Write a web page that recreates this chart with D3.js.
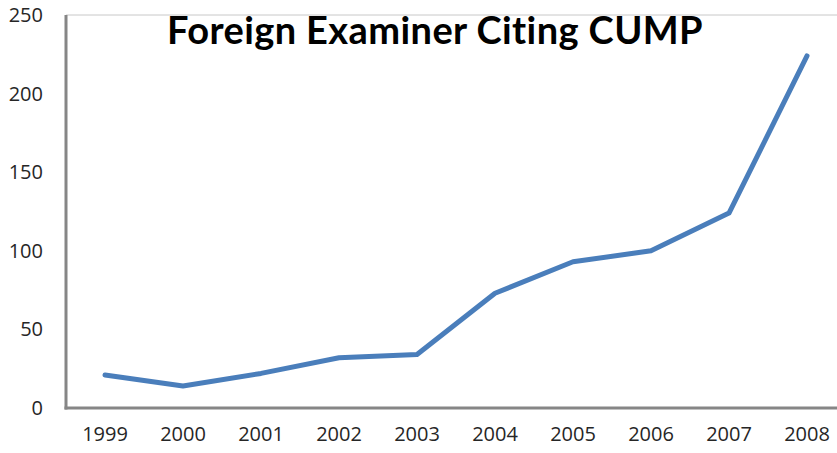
<!DOCTYPE html>
<html>
  <head>
    <style>
    body {
      margin: 0;
      background: #fff;
    }
    </style>
  </head>
  <body>
    <script src="https://cdn.jsdelivr.net/npm/d3@7"></script>
    <script>

var years = ["1999", "2000", "2001", "2002", "2003", "2004", "2005", "2006", "2007", "2008"];
var citations = [21, 14, 22, 32, 34, 73, 93, 100, 124, 224];
var yTicks = [0, 50, 100, 150, 200, 250];
var chartTitle = "Foreign Examiner Citing CUMP";

var width = 837, height = 453;
var plotLeft = 66, plotRight = 846, plotTop = 15, plotBottom = 408;

var svg = d3.select("body").append("svg")
    .attr("width", width)
    .attr("height", height);

var x = d3.scaleBand().domain(years).range([plotLeft, plotRight]);
var y = d3.scaleLinear().domain([0, 250]).range([plotBottom, plotTop]);

// light top border
svg.append("line")
    .attr("x1", plotLeft).attr("x2", plotRight)
    .attr("y1", y(250)).attr("y2", y(250))
    .style("stroke", "#c8c8c8")
    .style("stroke-width", 1);

// y axis labels
var yAxis = svg.append("g")
    .attr("transform", "translate(" + plotLeft + ",0)")
    .call(d3.axisLeft(y).tickValues(yTicks).tickSize(0).tickPadding(23));
yAxis.select(".domain").remove();
yAxis.selectAll("text")
    .style("font-family", "'Open Sans', sans-serif")
    .style("font-size", "20px")
    .style("fill", "#262626");

// x axis labels
var xAxis = svg.append("g")
    .attr("transform", "translate(0," + plotBottom + ")")
    .call(d3.axisBottom(x).tickSize(0).tickPadding(19));
xAxis.select(".domain").remove();
xAxis.selectAll("text")
    .style("font-family", "'Open Sans', sans-serif")
    .style("font-size", "20px")
    .style("fill", "#262626");

// axis lines
svg.append("line")
    .attr("x1", plotLeft).attr("x2", plotLeft)
    .attr("y1", y(250)).attr("y2", plotBottom + 1.5)
    .style("stroke", "#868686")
    .style("stroke-width", 3);
svg.append("line")
    .attr("x1", plotLeft - 1.5).attr("x2", plotRight)
    .attr("y1", plotBottom).attr("y2", plotBottom)
    .style("stroke", "#868686")
    .style("stroke-width", 3);

// series
var line = d3.line()
    .x(function(d, i) { return x(years[i]) + x.bandwidth() / 2; })
    .y(function(d) { return y(d); });

svg.append("path")
    .datum(citations)
    .attr("d", line)
    .style("fill", "none")
    .style("stroke", "#4a7ebb")
    .style("stroke-width", 5)
    .style("stroke-linejoin", "round")
    .style("stroke-linecap", "round");

// title
svg.append("text")
    .attr("x", 435)
    .attr("y", 44)
    .attr("text-anchor", "middle")
    .style("font-family", "Lato, sans-serif")
    .style("font-weight", "bold")
    .style("font-size", "38px")
    .style("letter-spacing", "0.4px")
    .style("fill", "#000")
    .text(chartTitle);

    </script>
  </body>
</html>
